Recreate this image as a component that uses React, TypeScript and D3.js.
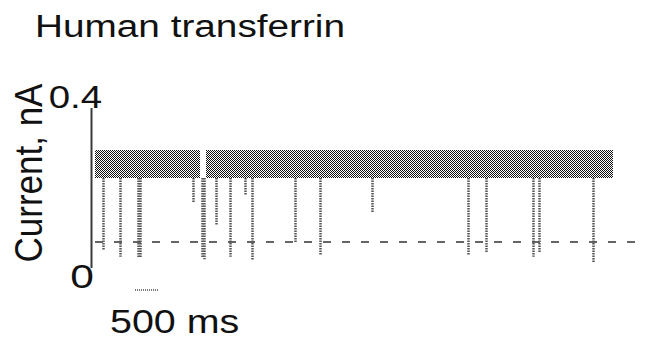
import React from "react";
import * as d3 from "d3";

// Open-pore current band (nA) and the stretches of time (ms) it covers
const bandLevels = [0.225, 0.295];
const bandSegments: [number, number][] = [
  [0, 2283],
  [2413, 11260],
];

// Blockade events: time (ms) and the residual current reached (nA)
const eventTimes = [174, 543, 945, 975, 2130, 2330, 2375, 2630, 2935, 3261, 3413, 4348, 4891, 6022, 8109, 8500, 9522, 9652, 10826];
const eventLevels = [0.045, 0.028, 0.027, 0.025, 0.165, 0.025, 0.022, 0.108, 0.028, 0.183, 0.02, 0.065, 0.033, 0.138, 0.033, 0.038, 0.028, 0.038, 0.015];

// Dashed blocked-level reference
const blockedLevel = 0.065;
const traceEnd = 11850;

const yTicks = [0, 0.4];
const scaleBarMs = 500;
const scaleBarStart = 870;

const W = 654;
const H = 344;

function StretchText(props: {
  x: number;
  y: number;
  sx?: number;
  size: number;
  anchor?: "start" | "middle" | "end";
  children: React.ReactNode;
}) {
  const { x, y, sx = 1, size, anchor = "start", children } = props;
  return (
    <text
      transform={`translate(${x},${y}) scale(${sx},1)`}
      fontSize={size}
      fontFamily="'Liberation Sans', Arial, sans-serif"
      textAnchor={anchor}
      fill="#111"
    >
      {children}
    </text>
  );
}

export default function App() {
  const x = d3.scaleLinear().domain([0, 12000]).range([95, 647]);
  const y = d3.scaleLinear().domain([0, 0.4]).range([268, 108]);

  const bandArea = d3
    .area<number>()
    .x((t) => x(t))
    .y0(y(bandLevels[0]))
    .y1(y(bandLevels[1]));

  return (
    <svg
      width={W}
      height={H}
      viewBox={`0 0 ${W} ${H}`}
      style={{ position: "absolute", left: 0, top: 0, background: "#fff" }}
    >
      <defs>
        <pattern id="dither" width={2} height={2} patternUnits="userSpaceOnUse">
          <rect width={2} height={2} fill="#fff" />
          <rect x={0} y={0} width={1} height={1} fill="#111" />
          <rect x={1} y={1} width={1} height={1} fill="#111" />
        </pattern>
      </defs>

      <StretchText x={35} y={37} sx={1.25} size={31}>
        Human transferrin
      </StretchText>

      {/* y axis */}
      <line
        x1={91.5}
        x2={91.5}
        y1={y(yTicks[1])}
        y2={y(yTicks[0])}
        stroke="#3a3a3a"
        strokeWidth={2}
      />
      <StretchText x={102} y={y(yTicks[1])} sx={1.2} size={32} anchor="end">
        {yTicks[1].toString()}
      </StretchText>
      <StretchText x={82} y={y(yTicks[0]) + 20} sx={1.25} size={34} anchor="middle">
        {yTicks[0].toString()}
      </StretchText>

      <text
        transform={`translate(42,${(y(0) + y(0.4)) / 2 - 15}) rotate(-90) scale(1,1.1)`}
        fontSize={35}
        fontFamily="'Liberation Sans', Arial, sans-serif"
        textAnchor="middle"
        fill="#111"
      >
        Current, nA
      </text>

      {/* blocked-level reference */}
      <line
        x1={x(0)}
        x2={x(traceEnd)}
        y1={y(blockedLevel)}
        y2={y(blockedLevel)}
        stroke="#333"
        strokeWidth={1.5}
        strokeDasharray="8 11"
      />

      {/* blockade events */}
      {eventTimes.map((t, i) => (
        <line
          key={i}
          x1={Math.round(x(t)) + 0.5}
          x2={Math.round(x(t)) + 0.5}
          y1={y(bandLevels[0])}
          y2={y(eventLevels[i])}
          stroke="#555"
          strokeWidth={2.5}
          strokeDasharray="1.5 1"
        />
      ))}

      {/* open-pore current band */}
      {bandSegments.map((s, i) => (
        <path key={i} d={bandArea(s) || ""} fill="url(#dither)" />
      ))}

      {/* time scale bar */}
      <line
        x1={x(scaleBarStart)}
        x2={x(scaleBarStart + scaleBarMs)}
        y1={290}
        y2={290}
        stroke="#777"
        strokeWidth={2}
        strokeDasharray="1 1"
      />
      <StretchText x={110} y={333} sx={1.16} size={34}>
        {`${scaleBarMs} ms`}
      </StretchText>
    </svg>
  );
}
